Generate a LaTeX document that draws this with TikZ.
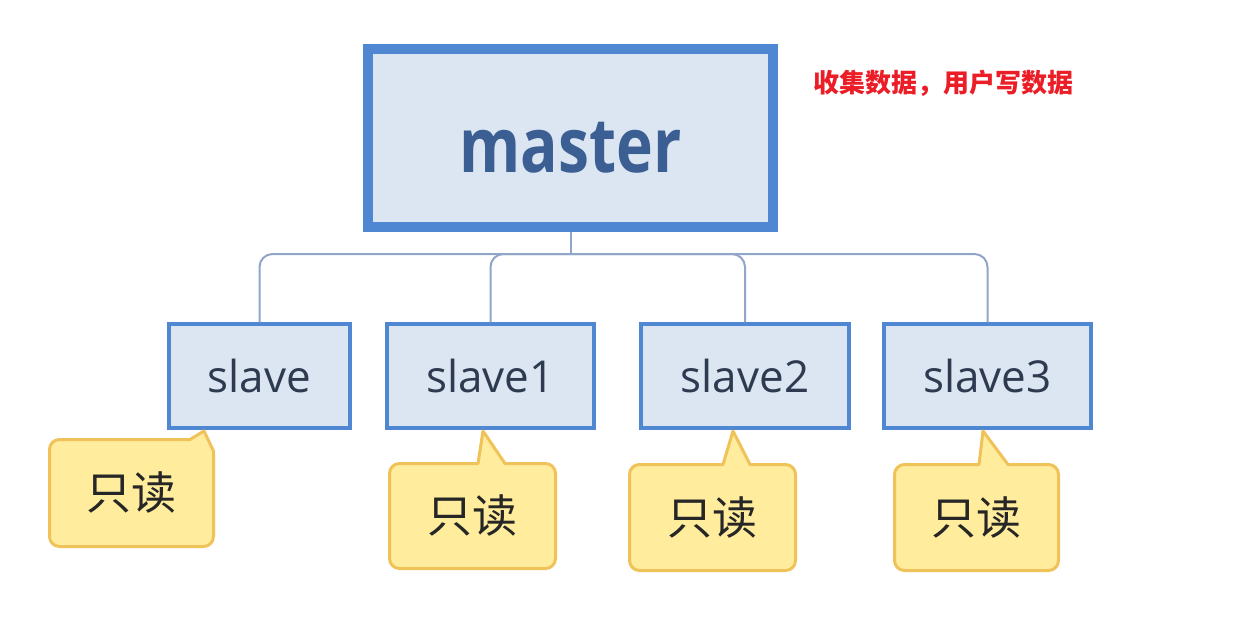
\documentclass[tikz,border=0pt]{standalone}
\usepackage{fontspec}
\setmainfont{Open Sans}
\newfontfamily\cjk{Noto Sans CJK SC}
\newfontfamily\masterfont[FakeStretch=0.82]{Open Sans}
\definecolor{boxblue}{RGB}{79,135,210}
\definecolor{boxfill}{RGB}{220,230,242}
\definecolor{mtext}{RGB}{59,94,147}
\definecolor{stext}{RGB}{46,58,79}
\definecolor{linkcol}{RGB}{145,165,200}
\definecolor{notefill}{RGB}{255,236,156}
\definecolor{noteline}{RGB}{240,195,90}
\definecolor{redtext}{RGB}{235,30,40}
\begin{document}
\begin{tikzpicture}[x=1pt,y=-1pt]
    \tikzset{
        mbox/.style={draw=boxblue, fill=boxfill, line width=10pt, minimum width=405pt, minimum height=178pt, inner sep=0pt, text=mtext, text height=68pt, text depth=0pt, font=\masterfont\bfseries\fontsize{76}{80}\selectfont},
        sbox/.style={draw=boxblue, fill=boxfill, line width=3.5pt, minimum height=104pt, inner sep=0pt, text=stext, font=\fontsize{44}{48}\selectfont},
        rtext/.style={inner sep=0pt, text=black!85, font=\cjk\fontsize{45}{48}\selectfont},
        rnote/.style={draw=noteline, fill=notefill, line width=3pt, line join=round},
        link/.style={draw=linkcol, line width=2pt}
    }
    \useasboundingbox (0,0) rectangle (1243,629);
    % master and its note
    \draw node[mbox] (m) at (570.5,138) {master};
    \draw node[text=redtext, font=\cjk\bfseries\fontsize{26}{28}\selectfont] (memo) at (943,83) {收集数据，用户写数据};
    % slaves
    \draw node[sbox, minimum width=181pt] (s0) at (259.5,376) {slave};
    \draw node[sbox, minimum width=207pt] (s1) at (490.5,376) {slave1};
    \draw node[sbox, minimum width=208pt] (s2) at (745,376) {slave2};
    \draw node[sbox, minimum width=207pt] (s3) at (987.5,376) {slave3};
    \coordinate (bus) at (570.5,254);
    \draw[link] (m.south) -- (bus);
    \foreach \s in {s0,s1,s2,s3}{
        \draw[link, rounded corners=13pt] (bus) -| (\s.north);
    }
    % read-only notes
    \coordinate (t0) at (204,431);
    \coordinate (t1) at (483,431);
    \coordinate (t2) at (733,431);
    \coordinate (t3) at (983,431);
    \draw[rnote] (120,439.5) -- (190,439.5) -- (t0) -- (213.5,451) [rounded corners=10pt] -- (213.5,546.5) -- (49.5,546.5) -- (49.5,439.5) -- cycle;
    \draw[rnote] (430,463.5) -- (478,463.5) -- (t1) -- (505,463.5) [rounded corners=10pt] -- (555.5,463.5) -- (555.5,568.5) -- (389.5,568.5) -- (389.5,463.5) -- cycle;
    \draw[rnote] (680,464.5) -- (723,464.5) -- (t2) -- (750,464.5) [rounded corners=10pt] -- (795.5,464.5) -- (795.5,570.5) -- (629.5,570.5) -- (629.5,464.5) -- cycle;
    \draw[rnote] (940,464.5) -- (979,464.5) -- (t3) -- (1008,464.5) [rounded corners=10pt] -- (1058.5,464.5) -- (1058.5,570.5) -- (894.5,570.5) -- (894.5,464.5) -- cycle;
    \draw node[rtext] (r0) at (131,493) {只读};
    \draw node[rtext] (r1) at (472.5,516) {只读};
    \draw node[rtext] (r2) at (712,517.5) {只读};
    \draw node[rtext] (r3) at (976.5,517.5) {只读};
\end{tikzpicture}
\end{document}
